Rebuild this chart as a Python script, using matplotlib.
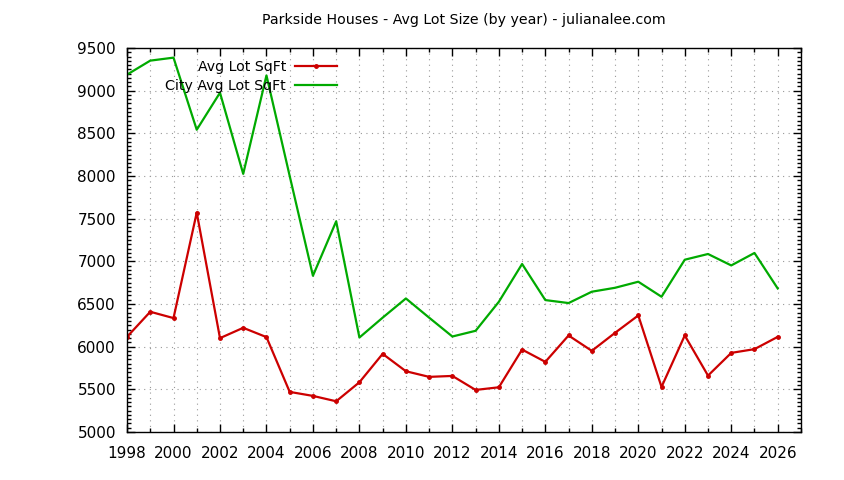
import matplotlib.pyplot as plt
from matplotlib.ticker import MultipleLocator

# yearly values
years = list(range(1998, 2027))
avg_lot = [6115, 6409, 6335, 7571, 6100, 6221, 6112, 5470, 5423, 5360,
           5583, 5916, 5712, 5646, 5657, 5493, 5524, 5966, 5822, 6131,
           5951, 6162, 6366, 5528, 6131, 5661, 5927, 5971, 6115]
city_avg_lot = [9188, 9352, 9387, 8542, 8976, 8025, 9179, 8000, 6831, 7469,
                6107, 6340, 6565, 6340, 6119, 6186, 6526, 6969, 6546, 6511,
                6644, 6690, 6761, 6585, 7019, 7086, 6952, 7098, 6682]

plt.rcParams['font.family'] = 'DejaVu Sans'

fig = plt.figure(figsize=(8.44, 4.8), dpi=100)
ax = fig.add_axes([0.1505, 0.1, 0.7985, 0.8])

ax.plot(years, avg_lot, color='#cc0000', linewidth=1.6, marker='o',
        markersize=2.5, label='Avg Lot SqFt')
ax.plot(years, city_avg_lot, color='#00aa00', linewidth=1.6,
        label='City Avg Lot SqFt')

ax.set_xlim(1998, 2027)
ax.set_ylim(5000, 9500)
ax.xaxis.set_major_locator(MultipleLocator(2))
ax.xaxis.set_minor_locator(MultipleLocator(1))
ax.yaxis.set_major_locator(MultipleLocator(500))
ax.yaxis.set_minor_locator(MultipleLocator(50))
ax.tick_params(which='both', direction='in', top=True, right=True, labelsize=11)
ax.tick_params(which='major', length=6, width=1)
ax.tick_params(which='minor', length=3, width=1)
ax.tick_params(axis='x', which='major', pad=10)
ax.tick_params(axis='y', which='major', pad=8)
ax.set_xticks(range(1998, 2027, 2))

ax.grid(True, which='major', axis='y', linestyle=(0, (1, 4)), color='#999999', linewidth=0.8)
ax.grid(True, which='both', axis='x', linestyle=(0, (1, 4)), color='#999999', linewidth=0.8)
for s in ax.spines.values():
    s.set_linewidth(1)

ax.set_title('Parkside Houses - Avg Lot Size (by year) - julianalee.com',
             fontsize=10.2, pad=17)

ax.legend(loc='upper right', bbox_to_anchor=(337 / 844, 1 - 60 / 480),
          bbox_transform=fig.transFigure, frameon=False,
          markerfirst=False, fontsize=10.2, handlelength=3.0,
          borderaxespad=0, borderpad=0, labelspacing=0.38, handletextpad=0.6)

fig.savefig('out.png', dpi=100)
